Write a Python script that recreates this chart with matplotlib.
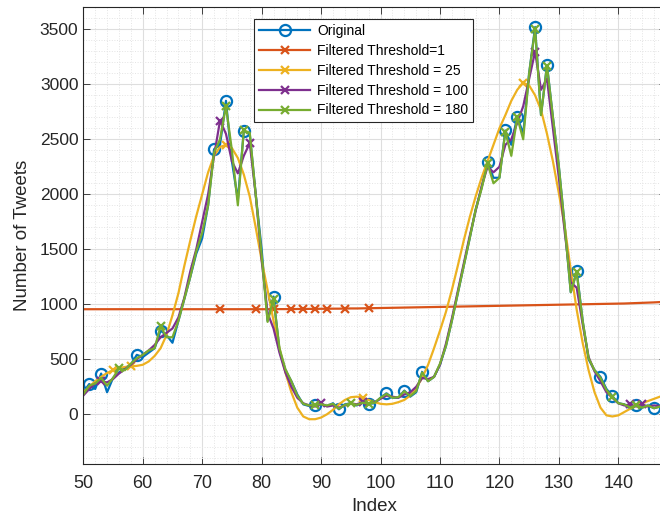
import numpy as np
import matplotlib
matplotlib.use('Agg')
from matplotlib import pyplot as plt
from matplotlib.ticker import MultipleLocator

plt.rcParams['font.family'] = ['Liberation Sans', 'DejaVu Sans']

# sample index
idx = np.arange(50, 148)

# raw tweet counts
original = [200, 275, 230, 370, 200, 330, 380, 420, 450, 540,
            520, 560, 600, 760, 720, 650, 850, 1050, 1250, 1460,
            1600, 1900, 2410, 2450, 2850, 2300, 1950, 2575, 2550, 2000,
            1500, 850, 1070, 580, 400, 300, 180, 90, 75, 85,
            90, 75, 100, 45, 90, 100, 80, 110, 95, 100,
            150, 190, 150, 150, 215, 160, 200, 385, 300, 340,
            450, 620, 850, 1100, 1350, 1600, 1860, 2060, 2290, 2150,
            2150, 2580, 2450, 2705, 2550, 3100, 3520, 2720, 3175, 2700,
            2250, 1700, 1110, 1300, 850, 500, 400, 340, 230, 165,
            100, 90, 50, 85, 60, 80, 55, 70]

thr_1 = [955, 955, 955, 955, 955, 955, 955, 955, 955, 955,
         955, 955, 955, 955, 955, 955, 955, 955, 955, 955,
         955, 955, 955, 955, 955, 955, 955, 955, 955, 955,
         955, 955, 955, 956, 956, 956, 957, 957, 958, 958,
         959, 959, 960, 960, 961, 962, 962, 963, 964, 965,
         966, 967, 968, 969, 970, 971, 972, 973, 974, 975,
         976, 977, 978, 979, 980, 981, 982, 983, 984, 985,
         986, 987, 988, 989, 990, 991, 992, 993, 994, 995,
         996, 997, 998, 999, 1000, 1001, 1002, 1003, 1004, 1005,
         1006, 1007, 1009, 1011, 1013, 1015, 1017, 1020]

thr_25 = [200, 250, 300, 340, 375, 400, 420, 430, 435, 440,
          450, 480, 530, 600, 720, 900, 1100, 1350, 1580, 1800,
          2000, 2200, 2350, 2430, 2450, 2420, 2330, 2180, 1980, 1700,
          1400, 1130, 850, 600, 380, 200, 60, -20, -45, -45,
          -30, 0, 40, 90, 130, 155, 160, 150, 130, 110,
          95, 90, 95, 110, 130, 170, 240, 330, 450, 600,
          760, 930, 1130, 1350, 1580, 1790, 1980, 2150, 2300, 2450,
          2600, 2720, 2850, 2950, 3015, 2990, 2900, 2766, 2550, 2300,
          2009, 1700, 1310, 950, 650, 400, 200, 60, -10, -20,
          -10, 20, 50, 80, 100, 120, 140, 160]

thr_100 = [170, 230, 280, 300, 290, 320, 370, 410, 450, 500,
           540, 580, 630, 700, 740, 780, 880, 1060, 1300, 1500,
           1750, 2000, 2350, 2670, 2550, 2300, 2190, 2350, 2464, 2000,
           1400, 920, 780, 560, 380, 250, 150, 100, 80, 70,
           100, 70, 80, 60, 80, 100, 90, 110, 100, 110,
           140, 170, 160, 150, 180, 200, 250, 330, 320, 340,
           450, 640, 870, 1120, 1370, 1620, 1850, 2070, 2250, 2200,
           2250, 2450, 2500, 2650, 2800, 3050, 3297, 2950, 3050, 2600,
           2150, 1650, 1200, 1150, 820, 520, 390, 300, 200, 150,
           100, 80, 90, 70, 90, 70, 80, 75]

thr_180 = [180, 260, 280, 330, 260, 330, 418, 400, 460, 510,
           540, 580, 600, 800, 700, 700, 850, 1050, 1250, 1480,
           1650, 1900, 2380, 2500, 2800, 2400, 1900, 2580, 2560, 2000,
           1450, 840, 1050, 600, 410, 300, 170, 95, 80, 85,
           90, 80, 95, 50, 85, 100, 85, 105, 95, 105,
           150, 185, 150, 155, 210, 165, 210, 380, 300, 340,
           460, 620, 850, 1100, 1350, 1600, 1860, 2050, 2280, 2100,
           2150, 2570, 2350, 2700, 2500, 3100, 3500, 2720, 3170, 2700,
           2250, 1700, 1110, 1290, 850, 510, 400, 330, 220, 160,
           100, 90, 60, 85, 60, 80, 55, 70]

# marker positions (indices into idx)
mk_orig = [1, 3, 9, 13, 22, 24, 27, 32, 39, 43, 48, 51, 54, 57, 68, 71, 73, 76, 78, 83, 87, 89, 93, 96]
mk_1 = [23, 29, 32, 35, 37, 39, 41, 44, 48]
mk_25 = [5, 8, 24, 47, 74]
mk_100 = [3, 23, 28, 40, 47, 76, 92, 94]
mk_180 = [6, 13, 24, 27, 32, 39, 45, 48, 68, 71, 73, 76, 78, 83, 89, 93]

fig = plt.figure(figsize=(6.6, 5.19), dpi=100)
ax = fig.add_axes([0.1262, 0.1054, 0.8827, 0.8805])

ax.plot(idx, original, color='#0072BD', lw=1.6, marker='o', ms=8, mfc='none', mew=1.6,
        markevery=mk_orig, label='Original')
ax.plot(idx, thr_1, color='#D95319', lw=1.6, marker='x', ms=6, mew=1.6,
        markevery=mk_1, label='Filtered Threshold=1')
ax.plot(idx, thr_25, color='#EDB120', lw=1.6, marker='x', ms=6, mew=1.6,
        markevery=mk_25, label='Filtered Threshold = 25')
ax.plot(idx, thr_100, color='#7E2F8E', lw=1.6, marker='x', ms=6, mew=1.6,
        markevery=mk_100, label='Filtered Threshold = 100')
ax.plot(idx, thr_180, color='#77AC30', lw=1.6, marker='x', ms=6, mew=1.6,
        markevery=mk_180, label='Filtered Threshold = 180')

ax.set_xlim(50, 148)
ax.set_ylim(-455, 3700)
ax.xaxis.set_major_locator(MultipleLocator(10))
ax.xaxis.set_minor_locator(MultipleLocator(2))
ax.yaxis.set_major_locator(MultipleLocator(500))
ax.yaxis.set_minor_locator(MultipleLocator(100))
ax.grid(which='major', color='#dedede', lw=0.8)
ax.grid(which='minor', color='#e4e4e4', lw=0.7, ls=':')
ax.set_axisbelow(True)
ax.tick_params(which='both', direction='in', top=True, right=True, labelsize=12.5,
               colors='#262626', width=0.6)
ax.tick_params(axis='x', pad=8, labelsize=13)
ax.tick_params(which='minor', length=0)
ax.tick_params(which='major', length=5)
for s in ax.spines.values():
    s.set_color('#262626')
    s.set_linewidth(0.8)

ax.set_xlabel('Index', fontsize=13.5, color='#262626', labelpad=4)
ax.set_ylabel('Number of Tweets', fontsize=13.5, color='#262626', labelpad=6)

leg = ax.legend(loc='upper left', bbox_to_anchor=(0.293, 0.974), borderaxespad=0,
                fontsize=10, handlelength=3.7, fancybox=False, framealpha=1,
                edgecolor='#262626', borderpad=0.35, labelspacing=0.42, handletextpad=0.5)
leg.get_frame().set_linewidth(0.8)

fig.savefig('out.png', dpi=100)
